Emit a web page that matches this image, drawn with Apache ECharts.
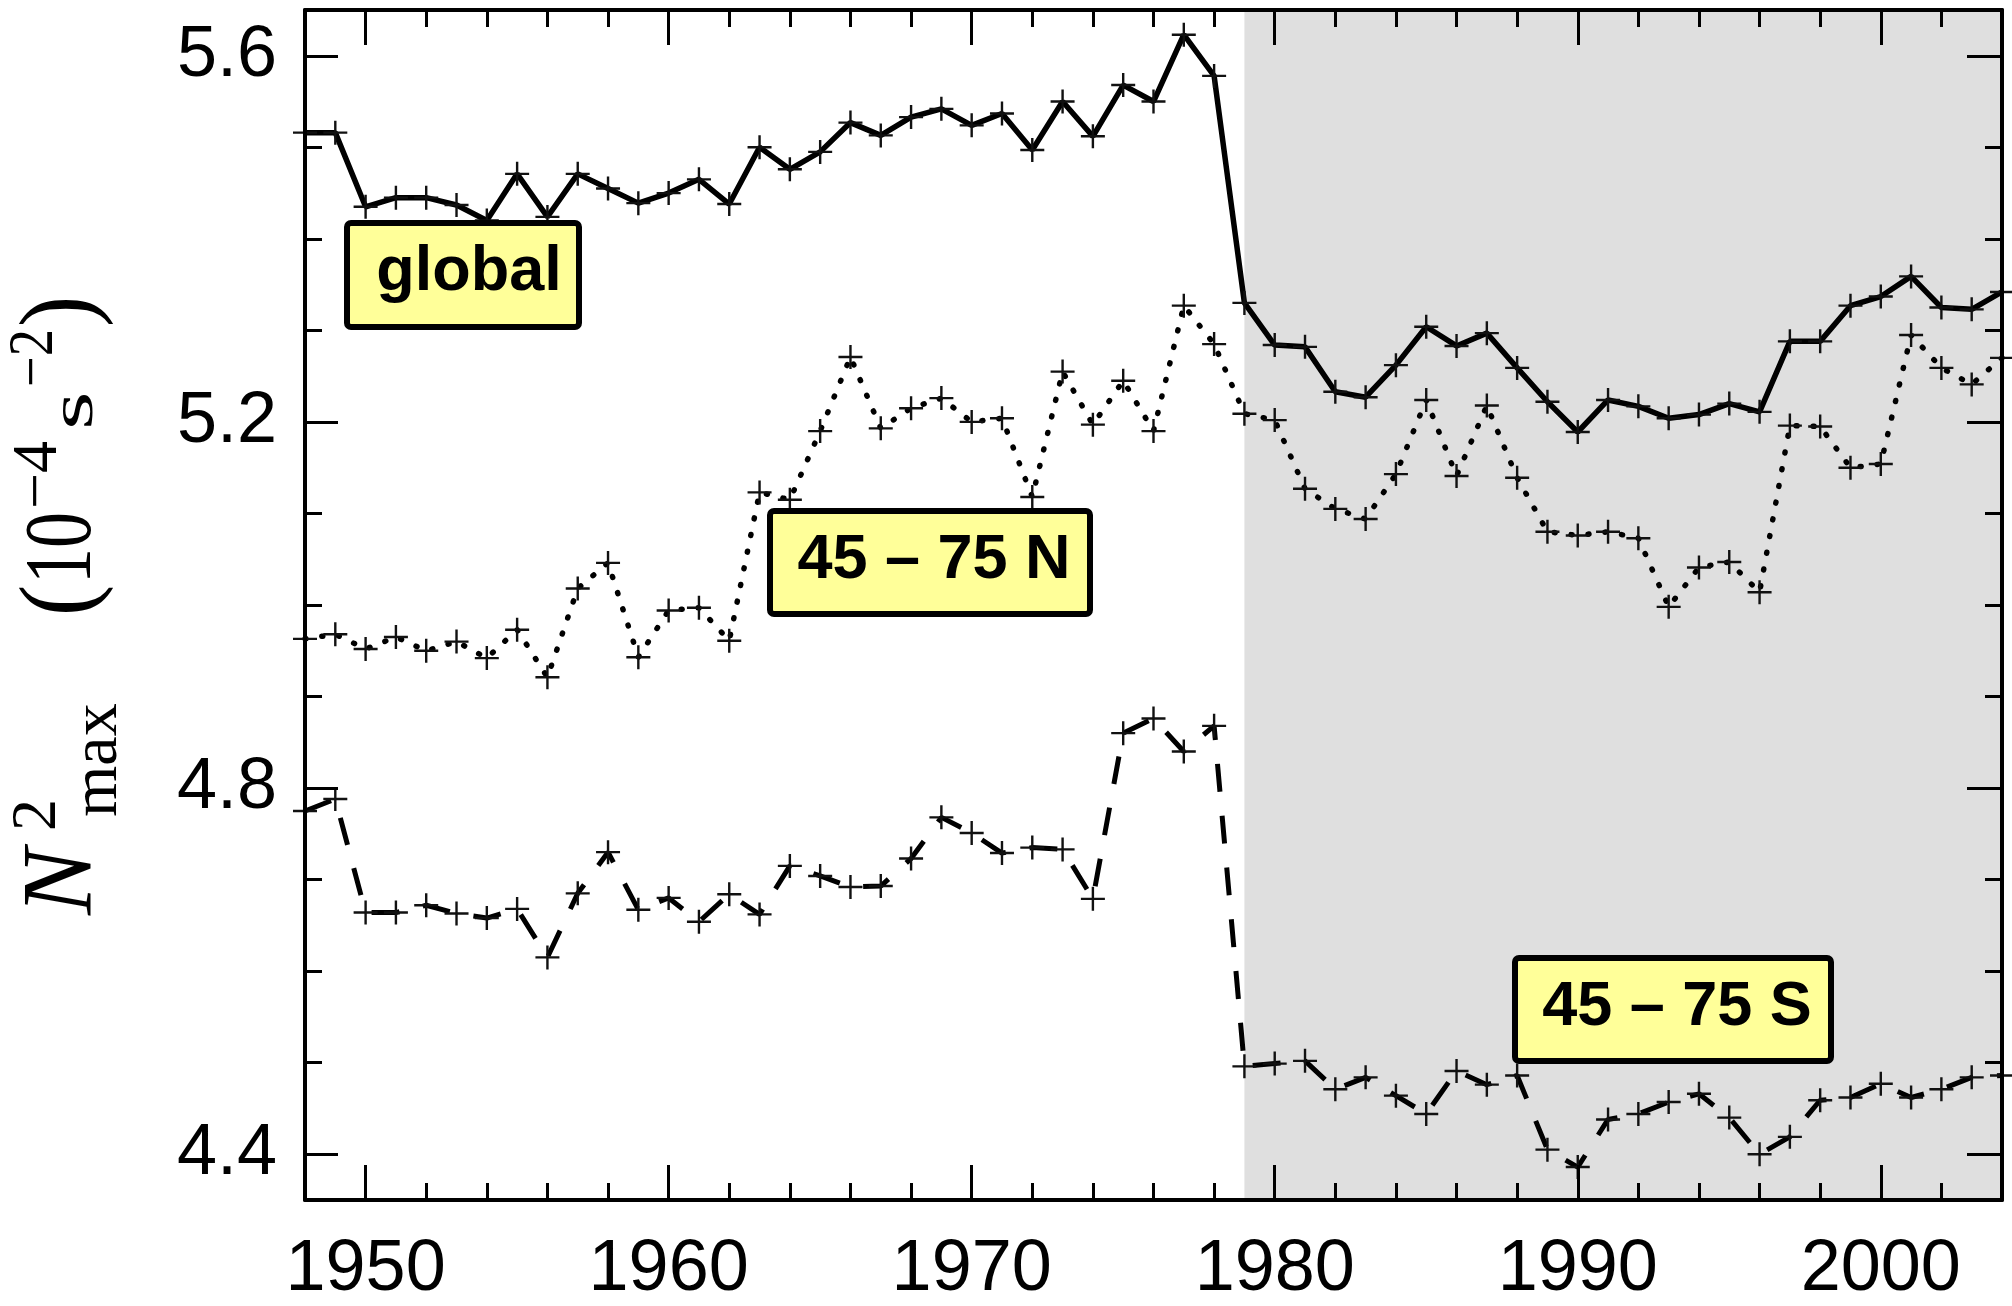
<!DOCTYPE html>
<html><head><meta charset="utf-8">
<script src="https://cdn.jsdelivr.net/npm/echarts@6/dist/echarts.min.js"></script>
<style>html,body{margin:0;padding:0;background:#fff}#c{width:2012px;height:1306px}</style>
</head><body><div id="c"></div>
<script>
const years = [1948,1949,1950,1951,1952,1953,1954,1955,1956,1957,1958,1959,1960,1961,1962,1963,1964,1965,1966,1967,1968,1969,1970,1971,1972,1973,1974,1975,1976,1977,1978,1979,1980,1981,1982,1983,1984,1985,1986,1987,1988,1989,1990,1991,1992,1993,1994,1995,1996,1997,1998,1999,2000,2001,2002,2003,2004];
const globalN2 = [5.516,5.516,5.435,5.445,5.445,5.437,5.420,5.471,5.424,5.471,5.455,5.439,5.450,5.465,5.438,5.500,5.476,5.495,5.527,5.513,5.533,5.542,5.524,5.537,5.497,5.550,5.512,5.568,5.550,5.623,5.578,5.330,5.284,5.282,5.233,5.227,5.262,5.304,5.283,5.297,5.259,5.222,5.189,5.224,5.217,5.204,5.208,5.220,5.211,5.288,5.288,5.327,5.337,5.359,5.325,5.323,5.342];
const north45to75 = [4.963,4.968,4.952,4.965,4.950,4.960,4.942,4.973,4.921,5.018,5.046,4.943,4.994,4.997,4.961,5.123,5.115,5.190,5.271,5.193,5.215,5.226,5.200,5.204,5.118,5.255,5.197,5.245,5.190,5.327,5.285,5.209,5.202,5.127,5.105,5.094,5.143,5.224,5.141,5.218,5.139,5.080,5.076,5.080,5.073,4.998,5.041,5.047,5.014,5.196,5.195,5.150,5.154,5.295,5.259,5.241,5.270];
const south45to75 = [4.775,4.788,4.664,4.664,4.672,4.663,4.658,4.668,4.615,4.685,4.730,4.667,4.680,4.654,4.684,4.662,4.715,4.704,4.692,4.693,4.723,4.768,4.751,4.729,4.735,4.733,4.679,4.860,4.876,4.840,4.868,4.496,4.499,4.502,4.471,4.484,4.464,4.444,4.491,4.476,4.486,4.405,4.386,4.438,4.444,4.457,4.466,4.440,4.400,4.419,4.459,4.462,4.477,4.462,4.471,4.484,4.486];
const xMajorTicks = [1950,1960,1970,1980,1990,2000];
const xMinorTicks = [1950,1952,1954,1956,1958,1960,1962,1964,1966,1968,1970,1972,1974,1976,1978,1980,1982,1984,1986,1988,1990,1992,1994,1996,1998,2000,2002];
const yMajorTicks = [4.4,4.8,5.2,5.6];
const yMinorTicks = [4.4,4.5,4.6,4.7,4.8,4.9,5.0,5.1,5.2,5.3,5.4,5.5,5.6];
const shadeRange = [1979, 2004];
const boxLabels = ['global', '45 – 75 N', '45 – 75 S'];

const chart = echarts.init(document.getElementById('c'), null, {renderer: 'canvas'});
const plus = 'path://M-1,-0.1L1,-0.1L1,0.1L-1,0.1ZM-0.1,-1L0.1,-1L0.1,1L-0.1,1Z';
const pairs = arr => years.map((y, i) => [y, arr[i]]);
const sans = 'Liberation Sans';
const serif = '"Liberation Serif"';

function xAx(pos, ticks, len, line, label) {
  return {
    type: 'value', position: pos, min: 1948, max: 2004, z: 5,
    axisLine: {show: line, onZero: false, lineStyle: {color: '#000', width: 4}},
    axisTick: {show: true, inside: true, length: len, customValues: ticks, lineStyle: {color: '#000', width: 3}},
    axisLabel: label ? {show: true, customValues: ticks, margin: 34, fontSize: 72, fontFamily: sans, color: '#000',
      formatter: v => String(Math.round(v))} : {show: false},
    splitLine: {show: false}
  };
}
function yAx(pos, ticks, len, line, label) {
  return {
    type: 'value', position: pos, min: 4.35, max: 5.65, z: 5,
    axisLine: {show: line, onZero: false, lineStyle: {color: '#000', width: 4}},
    axisTick: {show: true, inside: true, length: len, customValues: ticks, lineStyle: {color: '#000', width: 3}},
    axisLabel: label ? {show: true, customValues: ticks, margin: 28, fontSize: 72, fontFamily: sans, color: '#000',
      padding: [20, 0, 0, 0], formatter: v => Number(v).toFixed(1)} : {show: false},
    splitLine: {show: false}
  };
}

function tt(text, x, baseline, size, opts) {
  opts = opts || {};
  return {
    type: 'text', x: x, y: baseline - 0.3375 * size, scaleX: opts.sx || 1, z: 50,
    style: {
      text: text, fill: '#000',
      font: (opts.italic ? 'italic ' : '') + size + 'px ' + serif,
      align: 'left', verticalAlign: 'middle', textAlign: 'left', textVerticalAlign: 'middle'
    }
  };
}

function box(x0, y0, x1, y1, label, cx, cy) {
  return [
    {type: 'rect', z: 100, shape: {x: x0 + 3, y: y0 + 3, width: x1 - x0 - 6, height: y1 - y0 - 6, r: 4},
     style: {fill: '#ffff99', stroke: '#000', lineWidth: 6}},
    {type: 'text', z: 101, x: cx, y: cy,
     style: {text: label, fill: '#000', font: 'bold 63px ' + sans,
       align: 'center', verticalAlign: 'middle', textAlign: 'center', textVerticalAlign: 'middle'}}
  ];
}

const option = {
  animation: false,
  backgroundColor: '#fff',
  grid: {left: 305, right: 10, top: 10, bottom: 103, containLabel: false},
  xAxis: [
    xAx('bottom', xMajorTicks, 35, true, true),
    xAx('bottom', xMinorTicks, 17, false, false),
    xAx('top', xMajorTicks, 35, true, false),
    xAx('top', xMinorTicks, 17, false, false)
  ],
  yAxis: [
    yAx('left', yMajorTicks, 33, true, true),
    yAx('left', yMinorTicks, 17, false, false),
    yAx('right', yMajorTicks, 35, true, false),
    yAx('right', yMinorTicks, 17, false, false)
  ],
  series: [
    {
      type: 'line', name: boxLabels[2], data: pairs(south45to75), z: 2,
      symbol: plus, symbolSize: 24, itemStyle: {color: '#111'},
      lineStyle: {color: '#000', width: 5, type: [28, 24]},
      markArea: {silent: true, itemStyle: {color: '#dfdfdf', borderWidth: 0},
        data: [[{xAxis: shadeRange[0]}, {xAxis: shadeRange[1]}]]}
    },
    {
      type: 'line', name: boxLabels[1], data: pairs(north45to75), z: 3,
      symbol: plus, symbolSize: 24, itemStyle: {color: '#111'},
      lineStyle: {color: '#000', width: 5.5, type: [1, 16], cap: 'round'}
    },
    {
      type: 'line', name: boxLabels[0], data: pairs(globalN2), z: 4,
      symbol: plus, symbolSize: 24, itemStyle: {color: '#111'},
      lineStyle: {color: '#000', width: 5.5}
    }
  ],
  graphic: [
    ...box(344, 220, 582, 330, boxLabels[0], 469, 273),
    ...box(767, 508, 1093, 617, boxLabels[1], 934, 561),
    ...box(1512, 955, 1834, 1064, boxLabels[2], 1677, 1008),
    {
      type: 'group', x: 97, y: 921, rotation: Math.PI / 2,
      children: [
        tt('N', 6, 0, 100, {italic: true}),
        tt('2', 90, -37, 64),
        tt('max', 104, 24, 66),
        tt('(', 305, 2, 104, {sx: 0.9}),
        tt('10', 337, 0, 96, {sx: 0.75}),
        tt('\u22124', 412, -36, 64),
        tt('s', 491, 0, 62, {sx: 1.6}),
        tt('\u22122', 534, -40, 64, {sx: 0.85}),
        tt(')', 594, 2, 104, {sx: 0.9})
      ]
    }
  ]
};
chart.setOption(option);
</script></body></html>
